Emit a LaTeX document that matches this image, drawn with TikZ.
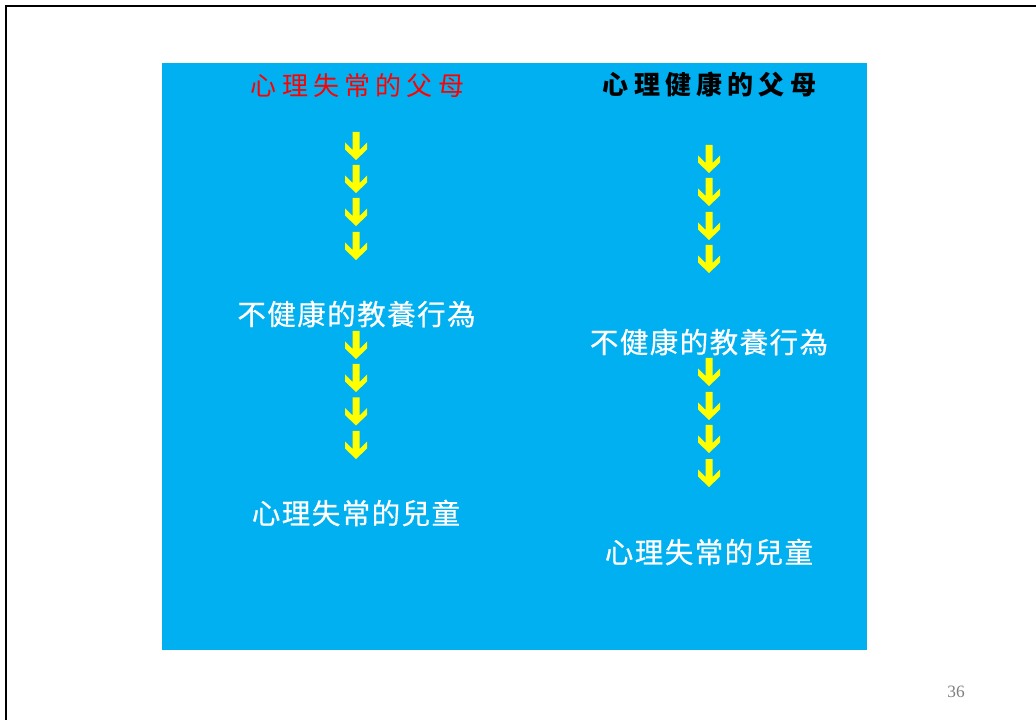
\documentclass[tikz,border=0pt]{standalone}
\usepackage{fontspec}
\setmainfont{Liberation Serif}
\newfontfamily\cjktitle[LetterSpace=20]{Noto Sans CJK TC}
\newfontfamily\cjkbody[LetterSpace=5,FakeBold=0.6]{Noto Sans CJK TC}
\definecolor{slideblue}{HTML}{00B0F0}
\definecolor{arrowyellow}{HTML}{FFFF00}
\definecolor{pagegray}{HTML}{808080}
\tikzset{
  darrow/.pic={
    \fill[arrowyellow] (-3.5,0) -- (3.5,0) -- (3.5,18) -- (11,10.5) -- (11,17.5)
      -- (0,28) -- (-11,17.5) -- (-11,10.5) -- (-3.5,18) -- cycle;
  },
  titletext/.style={inner sep=0pt, font=\cjktitle\fontsize{19.5}{23}\selectfont},
  bodytext/.style={inner sep=0pt, text=white, font=\cjkbody\fontsize{21.4}{25}\selectfont},
}
\begin{document}
\begin{tikzpicture}[x=0.75pt,y=-0.75pt]
\useasboundingbox (0,0) rectangle (1036,720);
\fill[white] (0,0) rectangle (1036,720);
\draw[line width=1.9pt] (6,720) -- (6,6) -- (1036,6);
\fill[slideblue] (162,63) rectangle (867,650);

% left column
\node[titletext, text=red] (lt) at (357.5,86) {心理失常的父母};
\foreach \t in {132,165,198,232} \pic at (356,\t) {darrow};
\node[bodytext] (lm) at (356.5,314) {不健康的教養行為};
\foreach \t in {331,364,397.5,431} \pic at (356,\t) {darrow};
\node[bodytext] (lb) at (356,513) {心理失常的兒童};

% right column
\node[titletext, font=\cjktitle\bfseries\fontsize{19.5}{23}\selectfont] (rt) at (709.5,85) {心理健康的父母};
\foreach \t in {145,178,212,245} \pic at (709,\t) {darrow};
\node[bodytext] (rm) at (709,342) {不健康的教養行為};
\foreach \t in {358,392,425,459} \pic at (709,\t) {darrow};
\node[bodytext] (rb) at (709,552) {心理失常的兒童};

\node[text=pagegray, font=\fontsize{13}{15}\selectfont, inner sep=0pt] (pg) at (956,692) {36};
\end{tikzpicture}
\end{document}
